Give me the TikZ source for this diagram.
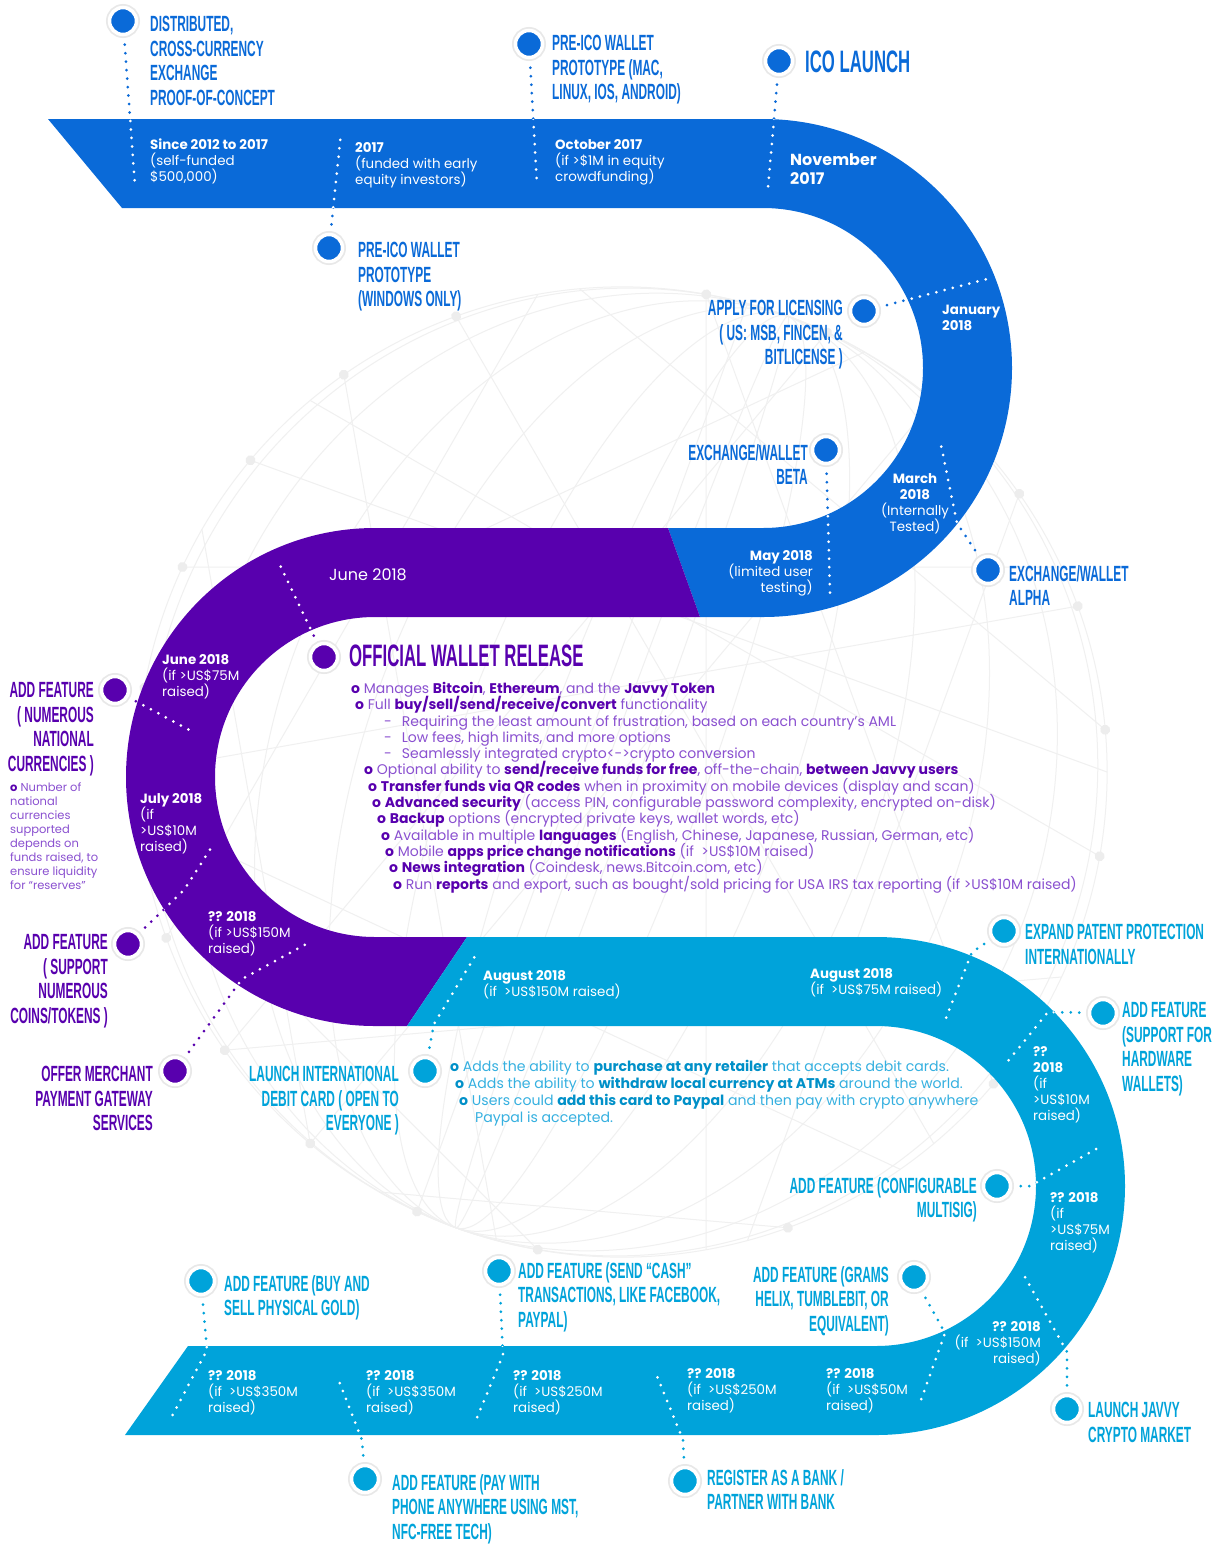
\documentclass[tikz,border=0pt]{standalone}
\usepackage{fontspec}
\setmainfont{Poppins}
\newfontfamily\headfont[FakeStretch=0.54]{Liberation Sans}
\usetikzlibrary{positioning}
\pgfdeclarelayer{net}
\pgfdeclarelayer{band}
\pgfsetlayers{net,band,main}

\definecolor{jblue}{HTML}{0A6AD8}
\definecolor{jpurple}{HTML}{5800AE}
\definecolor{jcyan}{HTML}{00A3DA}
\definecolor{jcyandk}{HTML}{0090C8}
\definecolor{jlilac}{HTML}{8A50D0}
\definecolor{jsky}{HTML}{35B0E0}

\newcommand\tightlines{\lineskiplimit=-20pt\relax}
\newcommand\hfont{\headfont\bfseries\fontsize{22}{24.7}\selectfont}
\newcommand\bigfont{\headfont\bfseries\fontsize{31}{31}\selectfont}
\newcommand\bfont{\fontsize{13.4}{16}\selectfont\tightlines}
\newcommand\lfont{\fontsize{14}{16.3}\selectfont\tightlines}
\newcommand\cfont{\fontsize{14.1}{17}\selectfont\tightlines}
\newcommand\nfont{\fontsize{11.5}{14}\selectfont\tightlines}
\newcommand\pb[1]{\textcolor{jpurple}{\textbf{#1}}}
\newcommand\cb[1]{\textcolor{jcyandk}{\textbf{#1}}}
\newcommand\wb[1]{\textbf{#1}}

% the three coloured pieces of the road
\newcommand\bandA{(48,-119) -- (763,-119) arc[start angle=90,end angle=-90,radius=249pt]
  -- (700,-617) -- (668,-528) -- (763,-528) arc[start angle=-90,end angle=90,radius=160pt]
  -- (122,-208) -- cycle}
\newcommand\bandB{(668,-528) -- (375,-528) arc[start angle=90,end angle=270,radius=249pt]
  -- (407,-1026) -- (467,-937) -- (375,-937) arc[start angle=270,end angle=90,radius=160pt]
  -- (700,-617) -- cycle}
\newcommand\bandC{(467,-937) -- (876,-937) arc[start angle=90,end angle=-90,radius=249pt]
  -- (125,-1435) -- (188,-1346) -- (876,-1346) arc[start angle=-90,end angle=90,radius=160pt]
  -- (407,-1026) -- cycle}

% dotted leaders from the milestones into the road
\newcommand\leaderset{
  \draw[lead=jblue] (dist) -- (dist-e);
  \draw[lead=jblue] (prewin) -- (prewin-e);
  \draw[lead=jblue] (premac) -- (premac-e);
  \draw[lead=jblue] (ico) -- (ico-e);
  \draw[lead=jblue] (lic) -- (lic-e);
  \draw[lead=jblue] (beta) -- (beta-e);
  \draw[lead=jblue] (alpha) -- (alpha-m) -- (alpha-e);
  \draw[lead=jpurple] (release) -- (release-e);
  \draw[lead=jpurple] (natcur) -- (natcur-e);
  \draw[lead=jpurple] (coins) -- (coins-m) -- (coins-e);
  \draw[lead=jpurple] (merchant) -- (merchant-m) -- (merchant-e);
  \draw[lead=jcyan] (debit) -- (debit-m) -- (debit-e);
  \draw[lead=jcyan] (patent) -- (patent-m) -- (patent-e);
  \draw[lead=jcyan] (hardware) -- (hardware-m) -- (hardware-e);
  \draw[lead=jcyan] (multisig) -- (multisig-m) -- (multisig-e);
  \draw[lead=jcyan] (market) -- (market-m) -- (market-e);
  \draw[lead=jcyan] (grams) -- (grams-m) -- (grams-e);
  \draw[lead=jcyan] (bank) -- (bank-m) -- (bank-e);
  \draw[lead=jcyan] (cash) -- (cash-m) -- (cash-e);
  \draw[lead=jcyan] (phone) -- (phone-m) -- (phone-e);
  \draw[lead=jcyan] (gold) -- (gold-m) -- (gold-e);
}

\begin{document}
\begin{tikzpicture}[x=1pt,y=1pt,
    mdot/.style={circle, fill=#1, draw=white, line width=3.5pt, minimum size=27pt, inner sep=0pt,
      preaction={draw=black!9, line width=7pt}},
    hl/.style={font=\hfont, text=#1, align=left, anchor=north west, inner sep=0pt},
    hr/.style={font=\hfont, text=#1, align=right, anchor=north east, inner sep=0pt},
    bt/.style={font=\bfont, text=white, align=left, anchor=north west, inner sep=0pt},
    btr/.style={bt, align=right, anchor=north east},
    btc/.style={bt, align=center, anchor=north},
    pl/.style={font=\lfont, text=jlilac, align=left, anchor=north west, inner sep=0pt},
    cl/.style={font=\cfont, text=jsky, align=left, anchor=north west, inner sep=0pt},
    note/.style={font=\nfont, text=jlilac, align=left, anchor=north west, inner sep=0pt},
    lead/.style={draw=#1, line width=3pt, line cap=round, dash pattern=on 0pt off 8.5pt}]
\useasboundingbox (0,0) rectangle (1220,-1545);

% milestones
\node[mdot=jblue] (dist) at (123,-21) {};
\node[mdot=jblue] (prewin) at (329,-248) {};
\node[mdot=jblue] (premac) at (529,-44) {};
\node[mdot=jblue] (ico) at (779,-61) {};
\node[mdot=jblue] (lic) at (864,-311) {};
\node[mdot=jblue] (beta) at (826,-450) {};
\node[mdot=jblue] (alpha) at (988,-570) {};
\node[mdot=jpurple] (release) at (324,-657) {};
\node[mdot=jpurple] (natcur) at (115,-690) {};
\node[mdot=jpurple] (coins) at (128,-944) {};
\node[mdot=jpurple] (merchant) at (175,-1071) {};
\node[mdot=jcyan] (debit) at (425,-1071) {};
\node[mdot=jcyan] (patent) at (1004,-931) {};
\node[mdot=jcyan] (hardware) at (1103,-1013) {};
\node[mdot=jcyan] (multisig) at (997,-1186) {};
\node[mdot=jcyan] (market) at (1067,-1409) {};
\node[mdot=jcyan] (grams) at (914,-1277) {};
\node[mdot=jcyan] (bank) at (685,-1481) {};
\node[mdot=jcyan] (cash) at (499,-1271) {};
\node[mdot=jcyan] (phone) at (365,-1479) {};
\node[mdot=jcyan] (gold) at (201,-1281) {};

% leader ends
\coordinate (dist-e) at (135,-186);
\coordinate (prewin-e) at (341,-133);
\coordinate (premac-e) at (537,-185);
\coordinate (ico-e) at (768,-188);
\coordinate (lic-e) at (987,-279);
\coordinate (beta-e) at (830,-593);
\coordinate (alpha-m) at (957,-523);
\coordinate (alpha-e) at (941,-445);
\coordinate (release-e) at (279,-563);
\coordinate (natcur-e) at (193,-732);
\coordinate (coins-m) at (184,-890);
\coordinate (coins-e) at (213,-845);
\coordinate (merchant-m) at (242,-979);
\coordinate (merchant-e) at (310,-942);
\coordinate (debit-m) at (434,-1024);
\coordinate (debit-e) at (477,-953);
\coordinate (patent-m) at (972,-952);
\coordinate (patent-e) at (946,-1018);
\coordinate (hardware-m) at (1048,-1012);
\coordinate (hardware-e) at (1004,-1066);
\coordinate (multisig-m) at (1030,-1186);
\coordinate (multisig-e) at (1098,-1148);
\coordinate (market-m) at (1067,-1352);
\coordinate (market-e) at (1025,-1277);
\coordinate (grams-m) at (945,-1333);
\coordinate (grams-e) at (921,-1400);
\coordinate (bank-m) at (683,-1440);
\coordinate (bank-e) at (657,-1376);
\coordinate (cash-m) at (503,-1355);
\coordinate (cash-e) at (476,-1420);
\coordinate (phone-m) at (362,-1440);
\coordinate (phone-e) at (337,-1376);
\coordinate (gold-m) at (207,-1350);
\coordinate (gold-e) at (170,-1420);

% blue part
\node[hl=jblue] (dist-t) at (150,-16) {DISTRIBUTED,\\CROSS-CURRENCY\\EXCHANGE\\PROOF-OF-CONCEPT};
\node[bt] (since) at (150,-139) {\wb{Since 2012 to 2017}\\(self-funded\\\$500,000)};
\node[bt] (y2017) at (355,-142) {\wb{2017}\\(funded with early\\equity investors)};
\node[hl=jblue] (prewin-t) at (358,-242) {PRE-ICO WALLET\\PROTOTYPE\\(WINDOWS ONLY)};
\node[hl=jblue] (premac-t) at (552,-35) {PRE-ICO WALLET\\PROTOTYPE (MAC,\\LINUX, IOS, ANDROID)};
\node[bt] (oct) at (555,-139) {\wb{October 2017}\\(if >\$1M in equity\\crowdfunding)};
\node[hl=jblue, font=\bigfont] (ico-t) at (805,-51) {ICO LAUNCH};
\node[bt, font=\fontsize{16}{19}\selectfont\bfseries] (nov) at (790,-153) {November\\2017};
\node[hr=jblue] (lic-t) at (843,-300) {APPLY FOR LICENSING\\( US: MSB, FINCEN, \&\\BITLICENSE )};
\node[bt] (jan) at (942,-305) {\wb{January}\\\wb{2018}};
\node[hr=jblue] (beta-t) at (808,-444) {EXCHANGE/WALLET\\BETA};
\node[btr] (may) at (813,-550) {\wb{May 2018}\\(limited user\\testing)};
\node[hl=jblue] (alpha-t) at (1009,-565) {EXCHANGE/WALLET\\ALPHA};
\node[btc] (march) at (915,-473) {\wb{March}\\\wb{2018}\\(Internally\\Tested)};

% purple part
\node[bt, font=\fontsize{16}{19}\selectfont] (june) at (329,-569) {June 2018};
\node[hl=jpurple, font=\bigfont] (release-t) at (349,-645) {OFFICIAL WALLET RELEASE};
\node[pl] (release-l) at (351,-682) {\pb{o} Manages \pb{Bitcoin}, \pb{Ethereum}, and the \pb{Javvy Token}\\
  \hspace*{4pt}\pb{o} Full \pb{buy/sell/send/receive/convert} functionality\\
  \hspace*{33pt}-\hspace*{10pt}Requiring the least amount of frustration, based on each country’s AML\\
  \hspace*{33pt}-\hspace*{10pt}Low fees, high limits, and more options\\
  \hspace*{33pt}-\hspace*{10pt}Seamlessly integrated crypto<->crypto conversion\\
  \hspace*{13pt}\pb{o} Optional ability to \pb{send/receive funds for free}, off-the-chain, \pb{between Javvy users}\\
  \hspace*{17pt}\pb{o} \pb{Transfer funds via QR codes} when in proximity on mobile devices (display and scan)\\
  \hspace*{21pt}\pb{o} \pb{Advanced security} (access PIN, configurable password complexity, encrypted on-disk)\\
  \hspace*{26pt}\pb{o} \pb{Backup} options (encrypted private keys, wallet words, etc)\\
  \hspace*{30pt}\pb{o} Available in multiple \pb{languages} (English, Chinese, Japanese, Russian, German, etc)\\
  \hspace*{34pt}\pb{o} Mobile \pb{apps price change notifications} (if~ >US\$10M raised)\\
  \hspace*{38pt}\pb{o} \pb{News integration} (Coindesk, news.Bitcoin.com, etc)\\
  \hspace*{42pt}\pb{o} Run \pb{reports} and export, such as bought/sold pricing for USA IRS tax reporting (if >US\$10M raised)};
\node[hr=jpurple] (natcur-t) at (94,-682) {ADD FEATURE\\( NUMEROUS\\NATIONAL\\CURRENCIES )};
\node[note] (natcur-n) at (10,-783) {\pb{o} Number of\\national\\currencies\\supported\\depends on\\funds raised, to\\ensure liquidity\\for “reserves”};
\node[bt] (june75) at (162,-654) {\wb{June 2018}\\(if >US\$75M\\raised)};
\node[bt] (july) at (140,-793) {\wb{July 2018}\\(if\\>US\$10M\\raised)};
\node[hr=jpurple] (coins-t) at (108,-934) {ADD FEATURE\\( SUPPORT\\NUMEROUS\\COINS/TOKENS )};
\node[bt] (q150a) at (208,-911) {\wb{?? 2018}\\(if >US\$150M\\raised)};
\node[hr=jpurple] (merchant-t) at (153,-1066) {OFFER MERCHANT\\PAYMENT GATEWAY\\SERVICES};

% cyan part
\node[hr=jcyan] (debit-t) at (399,-1066) {LAUNCH INTERNATIONAL\\DEBIT CARD ( OPEN TO\\EVERYONE )};
\node[cl] (debit-l) at (450,-1060) {\cb{o} Adds the ability to \cb{purchase at any retailer} that accepts debit cards.\\
  \hspace*{5pt}\cb{o} Adds the ability to \cb{withdraw local currency at ATMs} around the world.\\
  \hspace*{9pt}\cb{o} Users could \cb{add this card to Paypal} and then pay with crypto anywhere\\
  \hspace*{25pt}Paypal is accepted.};
\node[bt] (aug150) at (483,-970) {\wb{August 2018}\\(if~ >US\$150M raised)};
\node[bt] (aug75) at (810,-968) {\wb{August 2018}\\(if~ >US\$75M raised)};
\node[hl=jcyan] (patent-t) at (1025,-924) {EXPAND PATENT PROTECTION\\INTERNATIONALLY};
\node[hl=jcyan] (hardware-t) at (1122,-1002) {ADD FEATURE\\(SUPPORT FOR\\HARDWARE\\WALLETS)};
\node[bt] (q10) at (1033,-1046) {\wb{??}\\\wb{2018}\\(if\\>US\$10M\\raised)};
\node[hr=jcyan] (multisig-t) at (977,-1177) {ADD FEATURE (CONFIGURABLE\\MULTISIG)};
\node[bt] (q75) at (1050,-1192) {\wb{?? 2018}\\(if\\>US\$75M\\raised)};
\node[btr] (q150b) at (1041,-1321) {\wb{?? 2018}\\(if~ >US\$150M\\raised)};
\node[hl=jcyan] (market-t) at (1088,-1402) {LAUNCH JAVVY\\CRYPTO MARKET};
\node[hr=jcyan] (grams-t) at (889,-1266) {ADD FEATURE (GRAMS\\HELIX, TUMBLEBIT, OR\\EQUIVALENT)};
\node[bt] (q50) at (826,-1368) {\wb{?? 2018}\\(if~ >US\$50M\\raised)};
\node[bt] (q250b) at (687,-1368) {\wb{?? 2018}\\(if~ >US\$250M\\raised)};
\node[hl=jcyan] (bank-t) at (707,-1469) {REGISTER AS A BANK /\\PARTNER WITH BANK};
\node[bt] (q250a) at (513,-1370) {\wb{?? 2018}\\(if~ >US\$250M\\raised)};
\node[hl=jcyan] (cash-t) at (518,-1262) {ADD FEATURE (SEND “CASH”\\TRANSACTIONS, LIKE FACEBOOK,\\PAYPAL)};
\node[bt] (q350b) at (366,-1370) {\wb{?? 2018}\\(if~ >US\$350M\\raised)};
\node[hl=jcyan] (phone-t) at (392,-1474) {ADD FEATURE (PAY WITH\\PHONE ANYWHERE USING MST,\\NFC-FREE TECH)};
\node[bt] (q350a) at (208,-1370) {\wb{?? 2018}\\(if~ >US\$350M\\raised)};
\node[hl=jcyan] (gold-t) at (224,-1275) {ADD FEATURE (BUY AND\\SELL PHYSICAL GOLD)};

% faint globe behind everything
\begin{pgfonlayer}{net}
  \fill[white] (0,0) rectangle (1220,-1545);
  \begin{scope}[shift={(622,-772)}, rotate=-20, draw=black!6, line width=1pt]
    \draw (0,0) circle[radius=485pt];
    \foreach \a in {12,28,44,58,70,80,88}
      \draw (0,0) ellipse[x radius={485*cos(\a)}, y radius=485];
    \foreach \p/\q in {10/150,40/200,70/250,100/300,130/330,160/20,190/80,220/120,250/170,280/210,
        310/260,340/100,25/115,55/305,85/235,145/275,175/45,205/325,235/355,265/95}
      \draw (\p:485) -- (\q:485);
    \foreach \p in {10,25,40,55,70,85,100,130,145,160,175,190,205,220,235,250,265,280,310,340}
      \fill[black!7] (\p:485) circle[radius=5pt];
  \end{scope}
\end{pgfonlayer}

% road and leaders
\begin{pgfonlayer}{band}
  \fill[jblue] \bandA;
  \fill[jpurple] \bandB;
  \fill[jcyan] \bandC;
  \leaderset
  \begin{scope}
    \clip \bandA \bandB \bandC;
    \tikzset{lead/.style={draw=white, line width=3pt, line cap=round, dash pattern=on 0pt off 8.5pt}}
    \leaderset
  \end{scope}
\end{pgfonlayer}
\end{tikzpicture}
\end{document}
